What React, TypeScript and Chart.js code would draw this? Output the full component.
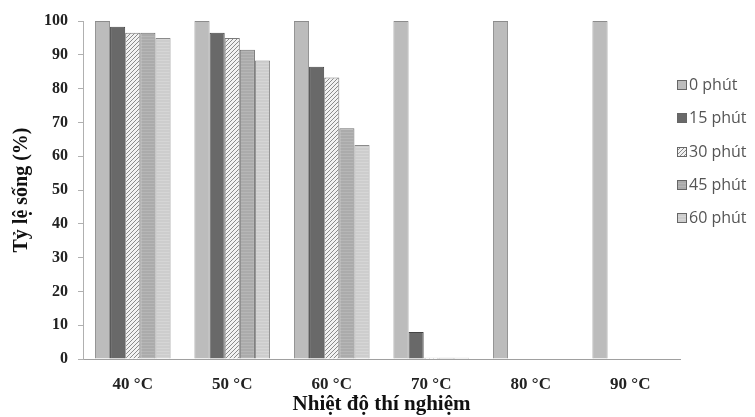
import React, { useEffect, useRef } from "react";
import { Chart, registerables } from "chart.js";

Chart.register(...registerables);

const categories = ["40 °C", "50 °C", "60 °C", "70 °C", "80 °C", "90 °C"];
const seriesLabels = ["0 phút", "15 phút", "30 phút", "45 phút", "60 phút"];
const s0 = [100, 100, 100, 100, 100, 100];
const s15 = [98.3, 96.5, 86.5, 8, 0, 0];
const s30 = [96.5, 95, 83.3, 0.4, 0, 0];
const s45 = [96.5, 91.5, 68.3, 0.4, 0, 0];
const s60 = [95, 88.3, 63.3, 0.4, 0, 0];
const yTicks = [0, 10, 20, 30, 40, 50, 60, 70, 80, 90, 100];

function makeHatch(): CanvasPattern | string {
  const c = document.createElement("canvas");
  c.width = 4;
  c.height = 4;
  const g = c.getContext("2d");
  if (!g) return "#ddd";
  g.fillStyle = "#f2f2f2";
  g.fillRect(0, 0, 4, 4);
  g.strokeStyle = "#8a8a8a";
  g.lineWidth = 1;
  g.beginPath();
  g.moveTo(0, 4);
  g.lineTo(4, 0);
  g.moveTo(-1, 1);
  g.lineTo(1, -1);
  g.moveTo(3, 5);
  g.lineTo(5, 3);
  g.stroke();
  const p = g.createPattern(c, "repeat");
  return p || "#ddd";
}

function makeStripes(base: string, line: string): CanvasPattern | string {
  const c = document.createElement("canvas");
  c.width = 4;
  c.height = 3;
  const g = c.getContext("2d");
  if (!g) return base;
  g.fillStyle = base;
  g.fillRect(0, 0, 4, 3);
  g.fillStyle = line;
  g.fillRect(0, 0, 4, 1);
  const p = g.createPattern(c, "repeat");
  return p || base;
}

export default function App() {
  const ref = useRef<HTMLCanvasElement | null>(null);

  useEffect(() => {
    if (!ref.current) return;
    const fills = [
      "#bcbcbc",
      "#696969",
      makeHatch(),
      makeStripes("#ababab", "#b6b6b6"),
      makeStripes("#cdcdcd", "#d6d6d6"),
    ];
    const borders = ["#8c8c8c", "#444444", "#7a7a7a", "#6e6e6e", "#8a8a8a"];
    const values = [s0, s15, s30, s45, s60];

    const legendPlugin = {
      id: "customLegend",
      afterDraw(chart: any) {
        const ctx = chart.ctx;
        const ys = [85, 118, 152, 185, 218];
        ctx.save();
        chart.data.datasets.forEach((ds: any, i: number) => {
          const y = ys[i];
          ctx.fillStyle = ds.backgroundColor;
          ctx.fillRect(677, y - 5, 10, 10);
          ctx.strokeStyle = "#666";
          ctx.lineWidth = 1;
          ctx.strokeRect(677.5, y - 4.5, 9, 9);
          ctx.fillStyle = "#555";
          ctx.font = "16px 'Open Sans'";
          ctx.textBaseline = "middle";
          ctx.textAlign = "left";
          ctx.fillText(ds.label, 689, y);
        });
        ctx.restore();
      },
    };

    const chart = new Chart(ref.current, {
      type: "bar",
      data: {
        labels: categories,
        datasets: seriesLabels.map((l, i) => ({
          label: l,
          data: values[i],
          backgroundColor: fills[i] as any,
          borderColor: borders[i],
          borderWidth: 1,
          barPercentage: 1,
          categoryPercentage: 0.76,
        })),
      },
      options: {
        animation: false,
        responsive: false,
        maintainAspectRatio: false,
        layout: { padding: { top: 21, right: 75, left: 0, bottom: 0 } },
        plugins: {
          legend: { display: false },
          tooltip: { enabled: false },
        },
        scales: {
          x: {
            grid: { display: false },
            border: { display: true, color: "#a0a0a0", width: 1 },
            ticks: {
              padding: 7,
              color: "#222",
              font: { family: "'Liberation Serif'", size: 17, weight: "bold" },
            },
            title: {
              display: true,
              text: "Nhiệt độ thí nghiệm",
              color: "#111",
              padding: { top: 0, bottom: 0 },
              font: { family: "'Liberation Serif'", size: 21, weight: "bold" },
            },
            afterFit(scale: any) {
              scale.height = 58;
            },
          },
          y: {
            min: 0,
            max: 100,
            afterBuildTicks(scale: any) {
              scale.ticks = yTicks.map((v) => ({ value: v }));
            },
            grid: {
              drawOnChartArea: false,
              drawTicks: true,
              tickLength: 5,
              color: "#b0b0b0",
            },
            border: { display: true, color: "#b0b0b0", width: 1 },
            ticks: {
              padding: 10,
              color: "#222",
              font: { family: "'Liberation Serif'", size: 16, weight: "bold" },
            },
            title: {
              display: true,
              text: "Tỷ lệ sống (%)",
              color: "#111",
              padding: { top: 10, bottom: 0 },
              font: { family: "'Liberation Serif'", size: 20, weight: "bold" },
            },
            afterFit(scale: any) {
              scale.width = 83;
            },
          },
        },
      },
      plugins: [legendPlugin],
    });
    return () => chart.destroy();
  }, []);

  return (
    <div style={{ position: "absolute", left: 0, top: 0, width: 755, height: 417, background: "#fff" }}>
      <canvas ref={ref} width={755} height={417} style={{ width: 755, height: 417, display: "block" }} />
    </div>
  );
}
